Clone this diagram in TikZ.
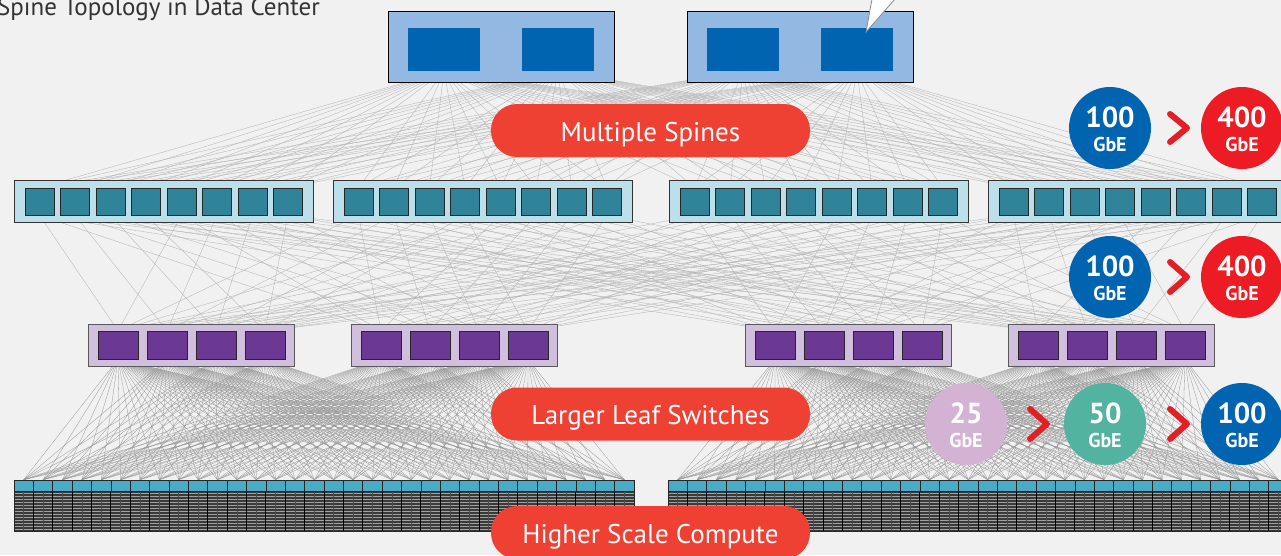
\documentclass[tikz,border=0pt]{standalone}
\usepackage{fontspec}
\setmainfont{PT Sans}
\definecolor{bgc}{HTML}{F1F1F1}
\definecolor{spinebg}{HTML}{93B9E2}
\definecolor{spinesq}{HTML}{0064B0}
\definecolor{aggbg}{HTML}{BCDFEA}
\definecolor{aggsqc}{HTML}{2F8499}
\definecolor{leafbg}{HTML}{D0C0DD}
\definecolor{leafsqc}{HTML}{6B3894}
\definecolor{cellc}{HTML}{48ACC6}
\definecolor{pillred}{HTML}{EE4133}
\definecolor{chev}{HTML}{E31E24}
\definecolor{cblue}{HTML}{0064B0}
\definecolor{cred}{HTML}{ED1C24}
\definecolor{cpink}{HTML}{D4B2D4}
\definecolor{cgreen}{HTML}{52B3A0}
\definecolor{linkc}{HTML}{B4B4B4}
\definecolor{stripec}{HTML}{A0A0A0}
\definecolor{rackdark}{HTML}{3A3A3A}
\pgfdeclarelayer{bg}
\pgfdeclarelayer{lines}
\pgfsetlayers{bg,lines,main}
\begin{document}
\begin{tikzpicture}[x=1pt,y=-1pt,
  spinebox/.style={draw=black,fill=spinebg,line width=0.8pt,inner sep=0pt,minimum width=226pt,minimum height=71pt},
  spinesquare/.style={fill=spinesq,inner sep=0pt,minimum width=72pt,minimum height=43pt},
  aggbox/.style={draw=black!80,fill=aggbg,line width=0.7pt,inner sep=0pt,minimum width=299pt,minimum height=42pt},
  aggsquare/.style={draw=black!85,fill=aggsqc,line width=0.6pt,inner sep=0pt,minimum width=29pt,minimum height=27pt},
  leafbox/.style={draw=black!65,fill=leafbg,line width=0.7pt,inner sep=0pt,minimum width=206pt,minimum height=42pt},
  leafsquare/.style={draw=black!85,fill=leafsqc,line width=0.6pt,inner sep=0pt,minimum width=40pt,minimum height=28pt},
  cell/.style={draw=black!85,fill=cellc,line width=0.6pt,inner sep=0pt,minimum width=19.375pt,minimum height=11pt},
  link/.style={draw=linkc,line width=0.35pt},
  pill/.style={fill=pillred,text=white,rounded corners=26pt,inner sep=0pt,minimum width=319pt,minimum height=53pt,text height=22pt,text depth=1pt,font=\fontsize{27}{30}\selectfont},
  speed/.style={circle,inner sep=0pt,minimum size=82pt},
  chevron/.style={draw=chev,line width=6pt,line cap=round,line join=round},
  big/.style={text=white,font=\bfseries\fontsize{29}{30}\selectfont},
  small/.style={text=white,font=\bfseries\fontsize{20}{22}\selectfont}
]
\useasboundingbox (0,0) rectangle (1281,555);
\begin{pgfonlayer}{bg}
\fill[bgc] (0,0) rectangle (1281,555);
\end{pgfonlayer}

% title
\node[anchor=base west,inner sep=0pt,text=black!80,font=\fontsize{25}{28}\selectfont] (title) at (-3,15) {Spine Topology in Data Center};

% spine
\node[spinebox] (S1) at (501,46.5) {};
\node[spinebox] (S2) at (800,46.5) {};
\node[spinesquare] (s1) at (444,49.5) {};
\node[spinesquare] (s2) at (558,49.5) {};
\node[spinesquare] (s3) at (743,49.5) {};
\node[spinesquare] (s4) at (857,49.5) {};

% callout tail
\coordinate (tip) at (866,32);
\coordinate (tl) at (872,-1);
\coordinate (tr) at (895,-1);
\fill[white] (tl) -- (tip) -- (tr) -- cycle;
\draw[black!45,line width=0.8pt] (tl) -- (tip) -- (tr);

% aggregation
\foreach \b [count=\bi from 0] in {14,333,669,988}{
  \node[aggbox] (A\bi) at (\b+149.5,201) {};
  \foreach \j in {0,...,7}{
    \pgfmathtruncatemacro\k{\bi*8+\j}
    \node[aggsquare] (a\k) at (\b+25.5+35.5*\j,201.5) {};
  }
}

% leaf
\foreach \b [count=\bi from 0] in {88,351,745,1008}{
  \node[leafbox] (L\bi) at (\b+103,345) {};
  \foreach \j in {0,...,3}{
    \pgfmathtruncatemacro\k{\bi*4+\j}
    \node[leafsquare] (l\k) at (\b+30+49*\j,345) {};
  }
}

% compute racks
\foreach \b [count=\bi from 0] in {14,668}{
  \fill[rackdark] (\b,491) rectangle (\b+620,531);
  \foreach \r in {0,...,12}{
    \fill[stripec] (\b,492.6+3*\r) rectangle (\b+620,494.4+3*\r);
  }
  \foreach \j in {0,...,32}{
    \draw[black,line width=1pt] (\b+19.375*\j,491) -- (\b+19.375*\j,531);
  }
  \foreach \j in {0,...,31}{
    \draw[black!70,line width=0.5pt] (\b+19.375*\j+9.7,491) -- (\b+19.375*\j+9.7,531);
    \pgfmathtruncatemacro\k{\bi*32+\j}
    \node[cell] (c\k) at (\b+9.6875+19.375*\j,485.5) {};
  }
  \draw[black!85,line width=0.8pt] (\b,480) rectangle (\b+620,531);
}

% links
\begin{pgfonlayer}{lines}
\foreach \s in {1,...,4}{
  \foreach \a in {0,...,31}{
    \draw[link] (s\s.south) -- (a\a.north);
  }
}
\foreach \a in {0,...,31}{
  \pgfmathtruncatemacro\m{mod(\a,4)}
  \foreach \lb in {0,...,3}{
    \pgfmathtruncatemacro\t{\lb*4+\m}
    \draw[link] (a\a.south) -- (l\t.north);
  }
}
\foreach \l in {0,...,7}{
  \foreach \c in {0,...,31}{
    \draw[link,draw=black!42,line width=0.3pt] (l\l.south) -- (c\c.north);
  }
}
\foreach \l in {8,...,15}{
  \foreach \c in {32,...,63}{
    \draw[link,draw=black!42,line width=0.3pt] (l\l.south) -- (c\c.north);
  }
}
\end{pgfonlayer}

% pills
\node[pill] (p1) at (650.5,130.5) {Multiple Spines};
\node[pill] (p2) at (650.5,414) {Larger Leaf Switches};
\node[pill] (p3) at (650.5,532.5) {Higher Scale Compute};

% speed circles row 1
\node[speed,fill=cblue] (r1a) at (1110,128) {};
\node[big] at ([yshift=11pt]r1a.center) {100};
\node[small] at ([yshift=-16pt]r1a.center) {GbE};
\node[speed,fill=cred] (r1b) at (1242,128) {};
\node[big] at ([yshift=11pt]r1b.center) {400};
\node[small] at ([yshift=-16pt]r1b.center) {GbE};
\draw[chevron] (1170,114) -- (1187,128) -- (1170,142);

% row 2
\node[speed,fill=cblue] (r2a) at (1110,277) {};
\node[big] at ([yshift=11pt]r2a.center) {100};
\node[small] at ([yshift=-16pt]r2a.center) {GbE};
\node[speed,fill=cred] (r2b) at (1242,277) {};
\node[big] at ([yshift=11pt]r2b.center) {400};
\node[small] at ([yshift=-16pt]r2b.center) {GbE};
\draw[chevron] (1170,262) -- (1187,277) -- (1170,292);

% row 3
\node[speed,fill=cpink] (r3a) at (966,424) {};
\node[big] at ([yshift=11pt]r3a.center) {25};
\node[small] at ([yshift=-16pt]r3a.center) {GbE};
\node[speed,fill=cgreen] (r3b) at (1105,424) {};
\node[big] at ([yshift=11pt]r3b.center) {50};
\node[small] at ([yshift=-16pt]r3b.center) {GbE};
\node[speed,fill=cblue] (r3c) at (1242,424) {};
\node[big] at ([yshift=11pt]r3c.center) {100};
\node[small] at ([yshift=-16pt]r3c.center) {GbE};
\draw[chevron] (1030,409) -- (1047,424) -- (1030,439);
\draw[chevron] (1170,409) -- (1187,424) -- (1170,439);
\end{tikzpicture}
\end{document}
